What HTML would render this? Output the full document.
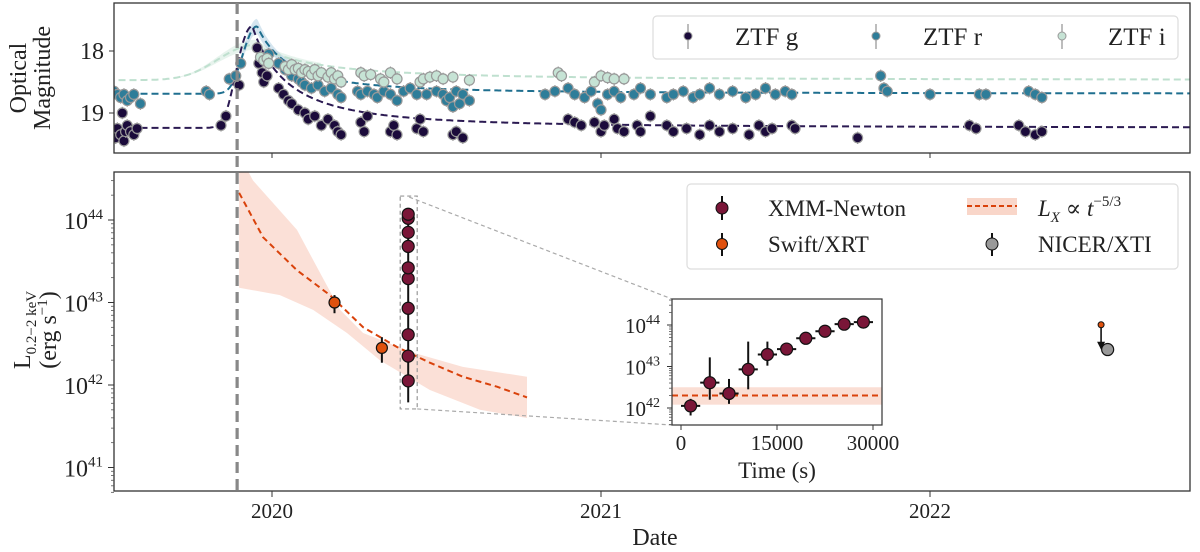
<!DOCTYPE html>
<html><head><meta charset="utf-8"><style>
html,body{margin:0;padding:0;background:#fff;}
svg{display:block;font-family:"Liberation Serif","DejaVu Serif",serif;}
</style></head><body>
<svg id="chart" width="1200" height="552" viewBox="0 0 1200 552" xmlns="http://www.w3.org/2000/svg">
<defs>
<clipPath id="clipTop"><rect x="114" y="3" width="1076" height="150"/></clipPath>
<clipPath id="clipBot"><rect x="114" y="172" width="1076" height="319"/></clipPath>
<clipPath id="clipIn"><rect x="672" y="299" width="210" height="126"/></clipPath>
</defs>
<g id="topPanel"></g>
<g id="botPanel"></g>
<g id="insetPanel"></g>
</svg>
<script>
// ---------- data ----------
const yearTicks=[2020,2021,2022];
const magTicks=[18,19];
const logTicks=[41,42,43,44];
const gData=[[2019.52,19.3],[2019.525,19.4],[2019.53,19.25],[2019.54,19.35],[2019.545,19.0],[2019.55,19.45],[2019.555,19.3],[2019.56,19.2],[2019.57,19.3],[2019.58,19.35],[2019.59,19.25],[2019.845,19.2],[2019.86,19.05],[2019.9,18.55],[2019.955,17.95],[2019.96,18.2],[2019.97,18.35],[2019.975,18.5],[2019.985,18.4],[2020.02,18.6],[2020.035,18.7],[2020.05,18.8],[2020.06,18.85],[2020.08,18.95],[2020.1,19.0],[2020.11,19.1],[2020.13,19.05],[2020.15,19.2],[2020.17,19.1],[2020.19,19.2],[2020.2,19.3],[2020.21,19.35],[2020.27,19.15],[2020.28,19.3],[2020.29,19.05],[2020.36,19.3],[2020.37,19.2],[2020.38,19.35],[2020.44,19.25],[2020.45,19.1],[2020.46,19.3],[2020.55,19.35],[2020.56,19.3],[2020.58,19.4],[2020.9,19.1],[2020.92,19.15],[2020.94,19.2],[2020.98,19.15],[2021.0,19.3],[2021.01,19.2],[2021.04,19.1],[2021.05,19.25],[2021.07,19.3],[2021.11,19.2],[2021.12,19.3],[2021.15,19.05],[2021.2,19.2],[2021.22,19.3],[2021.26,19.25],[2021.3,19.35],[2021.33,19.2],[2021.36,19.3],[2021.4,19.25],[2021.45,19.35],[2021.48,19.2],[2021.5,19.3],[2021.52,19.25],[2021.58,19.2],[2021.59,19.25],[2021.78,19.4],[2022.12,19.2],[2022.14,19.25],[2022.27,19.2],[2022.29,19.3],[2022.32,19.35],[2022.34,19.3]];
const rData=[[2019.52,18.65],[2019.53,18.7],[2019.54,18.75],[2019.55,18.7],[2019.56,18.8],[2019.57,18.75],[2019.58,18.7],[2019.6,18.85],[2019.8,18.65],[2019.81,18.7],[2019.87,18.45],[2019.89,18.4],[2019.905,18.2],[2019.99,18.05],[2020.02,18.2],[2020.04,18.3],[2020.06,18.4],[2020.08,18.45],[2020.09,18.5],[2020.1,18.55],[2020.12,18.6],[2020.14,18.55],[2020.16,18.65],[2020.18,18.6],[2020.2,18.7],[2020.21,18.75],[2020.26,18.65],[2020.27,18.7],[2020.29,18.65],[2020.31,18.7],[2020.32,18.75],[2020.34,18.65],[2020.36,18.7],[2020.38,18.8],[2020.4,18.65],[2020.42,18.6],[2020.44,18.7],[2020.47,18.7],[2020.5,18.65],[2020.52,18.7],[2020.53,18.8],[2020.54,18.75],[2020.55,18.9],[2020.56,18.65],[2020.57,18.85],[2020.58,18.7],[2020.6,18.8],[2020.83,18.7],[2020.86,18.65],[2020.9,18.6],[2020.92,18.7],[2020.95,18.75],[2020.97,18.65],[2020.99,18.85],[2021.0,18.95],[2021.02,18.7],[2021.04,18.65],[2021.06,18.75],[2021.1,18.7],[2021.12,18.6],[2021.15,18.7],[2021.2,18.75],[2021.22,18.7],[2021.25,18.65],[2021.28,18.75],[2021.3,18.7],[2021.33,18.6],[2021.36,18.7],[2021.4,18.65],[2021.44,18.75],[2021.47,18.7],[2021.5,18.6],[2021.53,18.7],[2021.56,18.65],[2021.58,18.7],[2021.85,18.4],[2021.86,18.6],[2021.87,18.65],[2022.0,18.7],[2022.15,18.7],[2022.17,18.7],[2022.3,18.65],[2022.32,18.7],[2022.34,18.75]];
const iData=[[2019.965,18.1],[2019.975,18.15],[2019.985,18.12],[2019.99,18.2],[2020.04,18.25],[2020.05,18.3],[2020.06,18.22],[2020.07,18.3],[2020.08,18.28],[2020.09,18.35],[2020.1,18.3],[2020.11,18.33],[2020.12,18.38],[2020.13,18.3],[2020.14,18.4],[2020.15,18.35],[2020.17,18.42],[2020.18,18.35],[2020.19,18.45],[2020.2,18.4],[2020.21,18.5],[2020.27,18.35],[2020.28,18.4],[2020.3,18.38],[2020.33,18.45],[2020.34,18.5],[2020.36,18.35],[2020.38,18.45],[2020.45,18.5],[2020.46,18.45],[2020.48,18.42],[2020.5,18.4],[2020.52,18.45],[2020.55,18.42],[2020.6,18.47],[2020.87,18.35],[2020.88,18.4],[2020.98,18.5],[2021.0,18.4],[2021.02,18.43],[2021.04,18.45],[2021.07,18.45]];
// fit parameters [base mag, peak mag, peak date, rise sigma, decay tau]
const gFit=[19.24,17.6,2019.94,0.035,0.09];
const rFit=[18.69,17.6,2019.955,0.035,0.1];
const iFit=[18.47,17.9,2019.95,0.1,0.24];
const discoveryDate=2019.894;
// X-ray
const fitDates=[2019.9,2019.973,2020.076,2020.176,2020.277,2020.38,2020.48,2020.58,2020.684,2020.775];
const fitLogs=[44.33,43.79,43.39,43.09,42.70,42.46,42.27,42.10,41.98,41.85];
const bandUpDates=[2019.9,2019.942,2020.076,2020.146,2020.207,2020.277,2020.43,2020.58,2020.775];
const bandUpLogs=[44.8,44.48,43.88,43.36,42.91,42.63,42.39,42.22,42.1];
const bandLoDates=[2019.9,2020.024,2020.125,2020.228,2020.328,2020.48,2020.632,2020.775];
const bandLoLogs=[43.18,43.09,42.91,42.63,42.30,41.94,41.70,41.6];
const swiftDates=[2020.19,2020.334];
const swiftLogs=[43.0,42.45];
const swiftLo=[42.87,42.27];
const swiftHi=[43.09,42.58];
const xmmDate=2020.414;
const xmmTimes=[1500,4500,7500,10500,13500,16500,19500,22500,25500,28500];
const xmmLogs=[42.05,42.61,42.35,42.93,43.29,43.42,43.68,43.85,44.02,44.07];
const xmmLo=[41.82,42.2,42.1,42.45,43.02,43.3,43.58,43.77,43.95,44.0];
const xmmHi=[42.22,43.22,42.7,43.6,43.6,43.55,43.8,43.95,44.1,44.13];
const nicerDate=2022.54, nicerLog=42.43;
const ulDate=2022.52, ulLog=42.73;
const insetFitLog=42.3, insetBand=[42.08,42.5];
const insetTicks=[0,15000,30000];
const insetLogTicks=[42,43,44];

// ---------- scales ----------
const X=d=>272+(d-2020)*329;
const YT=m=>51+(m-18)*62;
const YB=l=>220+(44-l)*82.5;
const XI=t=>681+t*192/30000;
const YI=l=>325+(44-l)*41.5;
const NS="http://www.w3.org/2000/svg";
function el(tag,attrs,parent,text){const e=document.createElementNS(NS,tag);for(const k in attrs)e.setAttribute(k,attrs[k]);if(text!==undefined)e.textContent=text;parent.appendChild(e);return e;}
const topG=document.getElementById('topPanel'),botG=document.getElementById('botPanel'),insG=document.getElementById('insetPanel');
const svgRoot=document.getElementById('chart');

function model(p,d){const [base,peak,tp,sig,tau]=p;const A=Math.pow(10,0.4*(base-peak))-1;let f;if(d<tp)f=A*Math.exp(-0.5*Math.pow((d-tp)/sig,2));else f=A*Math.pow((d-tp)/tau+1,-5/3);return base-2.5*Math.log10(1+f);}
function modelPath(p){let s='';for(let d=2019.5;d<=2022.8;d+=0.004){s+=(s?'L':'M')+X(d).toFixed(1)+','+YT(model(p,d)).toFixed(1);}return s;}

// ---------- top panel ----------
const tc=el('g',{'clip-path':'url(#clipTop)'},topG);
function bandPath(p,w){let up='',lo=[];for(let d=p[2]-0.25;d<=p[2]+0.2;d+=0.004){const m=model(p,d),dm=w*(1-(m-p[1])/(p[0]-p[1]));up+=(up?'L':'M')+X(d).toFixed(1)+','+YT(m-dm).toFixed(1);lo.push(X(d).toFixed(1)+','+YT(m+dm).toFixed(1));}return up+'L'+lo.reverse().join('L')+'Z';}
let b=el('path',{d:bandPath(iFit,0.08),fill:'#cfe8dc',opacity:0.5},tc);


b=el('path',{d:bandPath(rFit,0.12),fill:'#b9d4e4',opacity:0.6},tc);


const series=[[iFit,iData,'#c6e3d5','#bfe0cf','i'],[rFit,rData,'#2e7d99','#1f6f8f','r'],[gFit,gData,'#1b0b3b','#2b1a52','g']];
for(const [p,data,fc,lc,nm] of series){
 const l=el('path',{d:modelPath(p),fill:'none',stroke:lc,'stroke-width':2,'stroke-dasharray':'7,4'},tc);
 
 
}
for(const [p,data,fc,lc,nm] of [series[1],series[2],series[0]]){
 const g=el('g',{},tc);
 
 
 for(const [d,m] of data){
  el('line',{x1:X(d),x2:X(d),y1:YT(m-0.1),y2:YT(m+0.1),stroke:'#999','stroke-width':1.2},g);
  const c=el('circle',{cx:X(d),cy:YT(m),r:5,fill:fc,stroke:'#999','stroke-width':1.2},g);
  
  
 }
}
let fr=el('rect',{x:114,y:3,width:1076,height:150,fill:'none',stroke:'#333','stroke-width':1.3},topG);


for(const t of magTicks){el('line',{x1:109,x2:114,y1:YT(t),y2:YT(t),stroke:'#333'},topG);const tx=el('text',{x:104,y:YT(t)+8,'text-anchor':'end','font-size':24,fill:'#222'},topG,String(t));

}
for(const t of yearTicks){el('line',{x1:X(t),x2:X(t),y1:153,y2:158,stroke:'#333'},topG);}
let yl=el('text',{transform:'translate(26,78) rotate(-90)','text-anchor':'middle','font-size':24,fill:'#222'},topG,'Optical');


el('text',{transform:'translate(50,78) rotate(-90)','text-anchor':'middle','font-size':24,fill:'#222'},topG,'Magnitude');
const lg=el('g',{},topG);


el('rect',{x:653,y:16,width:525,height:43,rx:4,fill:'#fff',stroke:'#ddd','stroke-width':1.2},lg);
const legItems=[[688,735,'#1b0b3b','ZTF g'],[876,923,'#2e7d99','ZTF r'],[1062,1108,'#c6e3d5','ZTF i']];
for(const [mx,tx0,fc,lab] of legItems){el('line',{x1:mx,x2:mx,y1:24,y2:49,stroke:'#999','stroke-width':1.3},lg);el('circle',{cx:mx,cy:36,r:4,fill:fc,stroke:'#999'},lg);const t=el('text',{x:tx0,y:45,'font-size':25,fill:'#222'},lg,lab);

}

// ---------- bottom panel ----------
const bc=el('g',{'clip-path':'url(#clipBot)'},botG);
let bp='M'+X(bandUpDates[0])+','+YB(bandUpLogs[0]);
bandUpDates.forEach((d,i)=>{bp+='L'+X(d).toFixed(1)+','+YB(bandUpLogs[i]).toFixed(1);});
for(let i=bandLoDates.length-1;i>=0;i--)bp+='L'+X(bandLoDates[i]).toFixed(1)+','+YB(bandLoLogs[i]).toFixed(1);
b=el('path',{d:bp+'Z',fill:'#f9d6c9',opacity:0.75},bc);


let fp='';fitDates.forEach((d,i)=>{fp+=(i?'L':'M')+X(d).toFixed(1)+','+YB(fitLogs[i]).toFixed(1);});
b=el('path',{d:fp,fill:'none',stroke:'#d9420b','stroke-width':2,'stroke-dasharray':'6,4'},bc);


const zx1=X(xmmDate)-8,zx2=X(xmmDate)+9,zy1=YB(44.29),zy2=YB(41.71);
b=el('rect',{x:zx1,y:zy1,width:zx2-zx1,height:zy2-zy1,fill:'none',stroke:'#999','stroke-width':1.2,'stroke-dasharray':'4,3'},botG);


el('line',{x1:zx2-8,y1:zy1+1,x2:672,y2:299,stroke:'#aaa','stroke-width':1.2,'stroke-dasharray':'4,3'},botG);
el('line',{x1:zx2,y1:zy2,x2:672,y2:425,stroke:'#aaa','stroke-width':1.2,'stroke-dasharray':'4,3'},botG);
b=el('line',{x1:X(discoveryDate),x2:X(discoveryDate),y1:3,y2:491,stroke:'#888','stroke-width':3.2,'stroke-dasharray':'11,6'},svgRoot);


swiftDates.forEach((d,i)=>{el('line',{x1:X(d),x2:X(d),y1:YB(swiftHi[i]),y2:YB(swiftLo[i]),stroke:'#111','stroke-width':2},bc);const c=el('circle',{cx:X(d),cy:YB(swiftLogs[i]),r:5.5,fill:'#e0510e',stroke:'#111','stroke-width':1.2},bc);

});
el('line',{x1:X(xmmDate),x2:X(xmmDate),y1:YB(44.1),y2:YB(41.79),stroke:'#111','stroke-width':2},bc);
xmmLogs.forEach((l)=>{const c=el('circle',{cx:X(xmmDate),cy:YB(l),r:6,fill:'#7a1638',stroke:'#111','stroke-width':1.2},bc);

});
el('line',{x1:X(ulDate),x2:X(ulDate),y1:YB(ulLog),y2:YB(ulLog)+22,stroke:'#111','stroke-width':1.6},bc);
el('path',{d:`M${X(ulDate)-4},${YB(ulLog)+17}L${X(ulDate)+4},${YB(ulLog)+17}L${X(ulDate)},${YB(ulLog)+25}Z`,fill:'#111'},bc);
b=el('circle',{cx:X(ulDate),cy:YB(ulLog),r:3,fill:'#e0510e',stroke:'#111'},bc);


b=el('circle',{cx:X(nicerDate),cy:YB(nicerLog),r:6,fill:'#999',stroke:'#111','stroke-width':1.2},bc);


fr=el('rect',{x:114,y:172,width:1076,height:319,fill:'none',stroke:'#333','stroke-width':1.3},botG);


for(let dec=40;dec<=44;dec++){for(let k=2;k<=9;k++){const l=dec+Math.log10(k);if(l>40.68&&l<44.56)el('line',{x1:111,x2:114,y1:YB(l),y2:YB(l),stroke:'#555','stroke-width':0.8},botG);}}
for(const t of logTicks){el('line',{x1:108,x2:114,y1:YB(t),y2:YB(t),stroke:'#333'},botG);const tx=el('text',{x:64,y:YB(t)+9,'font-size':24,fill:'#222'},botG);


el('tspan',{},tx,'10');el('tspan',{dy:-10,'font-size':15},tx,String(t));}
for(const t of yearTicks){el('line',{x1:X(t),x2:X(t),y1:491,y2:497,stroke:'#333'},botG);const tx=el('text',{x:X(t),y:518,'text-anchor':'middle','font-size':21,fill:'#222'},botG,String(t));

}
let xt=el('text',{x:655,y:545,'text-anchor':'middle','font-size':24,fill:'#222'},botG,'Date');


let ya=el('text',{transform:'translate(30,330) rotate(-90)','text-anchor':'middle','font-size':24,fill:'#222'},botG);


el('tspan',{},ya,'L');el('tspan',{dy:6,'font-size':15},ya,'0.2−2 keV');
let yb=el('text',{transform:'translate(56,330) rotate(-90)','text-anchor':'middle','font-size':24,fill:'#222'},botG);
el('tspan',{},yb,'(erg s');el('tspan',{dy:-9,'font-size':15},yb,'−1');el('tspan',{dy:9},yb,')');
const bl=el('g',{},botG);


el('rect',{x:687,y:184,width:491,height:85,rx:4,fill:'#fff',stroke:'#ddd','stroke-width':1.2},bl);
el('line',{x1:722,x2:722,y1:196,y2:220,stroke:'#111','stroke-width':2},bl);el('circle',{cx:722,cy:208,r:6,fill:'#7a1638',stroke:'#111'},bl);
el('text',{x:768,y:216,'font-size':23,fill:'#222'},bl,'XMM-Newton');
el('line',{x1:722,x2:722,y1:233,y2:256,stroke:'#111','stroke-width':2},bl);el('circle',{cx:722,cy:244,r:5.5,fill:'#e0510e',stroke:'#111'},bl);
el('text',{x:768,y:252,'font-size':23,fill:'#222'},bl,'Swift/XRT');
el('rect',{x:967,y:198,width:50,height:17,fill:'#f9d6c9'},bl);el('line',{x1:967,x2:1017,y1:206,y2:206,stroke:'#d9420b','stroke-width':2,'stroke-dasharray':'5,3'},bl);
const lx=el('text',{x:1038,y:216,'font-size':23,fill:'#222','font-style':'italic'},bl);el('tspan',{},lx,'L');el('tspan',{dy:6,'font-size':15},lx,'X');el('tspan',{dy:-6,'font-style':'normal'},lx,' ∝ ');el('tspan',{},lx,'t');el('tspan',{dy:-10,'font-size':15,'font-style':'normal'},lx,'−5/3');
el('line',{x1:992,x2:992,y1:233,y2:256,stroke:'#111','stroke-width':2},bl);el('circle',{cx:992,cy:244,r:6,fill:'#999',stroke:'#111'},bl);
el('text',{x:1038,y:252,'font-size':23,fill:'#222'},bl,'NICER/XTI');

// ---------- inset ----------
el('rect',{x:672,y:299,width:210,height:126,fill:'#fff'},insG);
const ic=el('g',{'clip-path':'url(#clipIn)'},insG);
el('rect',{x:672,y:YI(insetBand[1]),width:210,height:YI(insetBand[0])-YI(insetBand[1]),fill:'#f9d6c9',opacity:0.8},ic);
b=el('line',{x1:672,x2:882,y1:YI(insetFitLog),y2:YI(insetFitLog),stroke:'#d9420b','stroke-width':2,'stroke-dasharray':'6,4'},ic);


xmmTimes.forEach((t,i)=>{el('line',{x1:XI(t),x2:XI(t),y1:YI(xmmHi[i]),y2:YI(xmmLo[i]),stroke:'#111','stroke-width':2},ic);el('line',{x1:XI(t-1500),x2:XI(t+1500),y1:YI(xmmLogs[i]),y2:YI(xmmLogs[i]),stroke:'#111','stroke-width':2},ic);const c=el('circle',{cx:XI(t),cy:YI(xmmLogs[i]),r:6,fill:'#7a1638',stroke:'#111','stroke-width':1.2},ic);

});
fr=el('rect',{x:672,y:299,width:210,height:126,fill:'none',stroke:'#333','stroke-width':1.2},insG);


for(let dec=41;dec<=44;dec++){for(let k=2;k<=9;k++){const l=dec+Math.log10(k);if(l>41.6&&l<44.62)el('line',{x1:669,x2:672,y1:YI(l),y2:YI(l),stroke:'#555','stroke-width':0.8},insG);}}
for(const t of insetLogTicks){el('line',{x1:667,x2:672,y1:YI(t),y2:YI(t),stroke:'#333'},insG);const tx=el('text',{x:625,y:YI(t)+8,'font-size':21,fill:'#222'},insG);


el('tspan',{},tx,'10');el('tspan',{dy:-9,'font-size':14},tx,String(t));}
for(const t of insetTicks){el('line',{x1:XI(t),x2:XI(t),y1:425,y2:430,stroke:'#333'},insG);const tx=el('text',{x:XI(t),y:450,'text-anchor':'middle','font-size':21,fill:'#222'},insG,String(t));

}
let it=el('text',{x:777,y:478,'text-anchor':'middle','font-size':23,fill:'#222'},insG,'Time (s)');


</script>
</body></html>
